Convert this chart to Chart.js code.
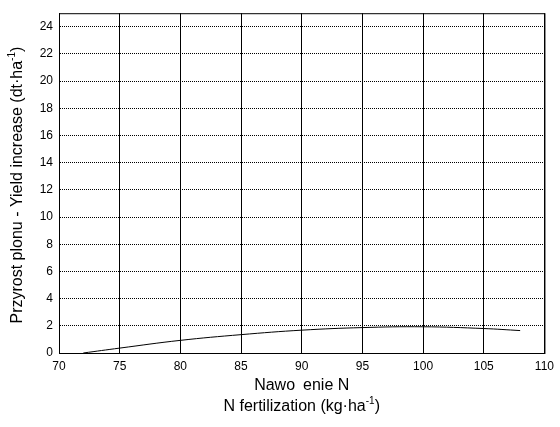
<!DOCTYPE html>
<html>
<head>
<meta charset="utf-8">
<script src="https://cdn.jsdelivr.net/npm/chart.js@4"></script>
<style>
  html, body { margin: 0; padding: 0; background: #fff; }
  #box { width: 560px; height: 427px; }
</style>
</head>
<body>
<div id="box"><canvas id="myChart"></canvas></div>
<script>
// values
const dawki = [72, 75, 80, 85, 90, 95, 100, 105, 108];
const przyrost = [0, 0.36, 0.93, 1.35, 1.68, 1.87, 1.93, 1.8, 1.65];
const xTicks = [70, 75, 80, 85, 90, 95, 100, 105, 110];
const yTicks = [0, 2, 4, 6, 8, 10, 12, 14, 16, 18, 20, 22, 24];

const FONT = 'Arial, "Liberation Sans", sans-serif';

// draws text with a superscript part, e.g. ['(dt·ha', '-1', ')']
function drawSup(ctx, parts, x, y, size) {
    const supSize = Math.round(size * 0.65);
    let total = 0;
    parts.forEach((p, i) => {
        ctx.font = (i % 2 ? supSize : size) + 'px ' + FONT;
        total += ctx.measureText(p).width;
    });
    let cx = x - total / 2;
    parts.forEach((p, i) => {
        const sup = i % 2 === 1;
        ctx.font = (sup ? supSize : size) + 'px ' + FONT;
        ctx.fillText(p, cx, sup ? y - size * 0.38 : y);
        cx += ctx.measureText(p).width;
    });
}

const ramka = {
    id: 'ramka',
    afterDraw(chart) {
        const { ctx, chartArea: a } = chart;
        ctx.save();
        ctx.strokeStyle = '#000';
        ctx.lineWidth = 1;
        ctx.strokeRect(a.left + 0.5, a.top + 0.5, a.right - a.left, a.bottom - a.top);
        ctx.fillStyle = '#000';
        ctx.textAlign = 'left';
        ctx.textBaseline = 'middle';
        const mid = (a.left + a.right) / 2;
        drawSup(ctx, ['Nawo\u2002enie N'], mid, 386, 16);
        drawSup(ctx, ['N fertilization (kg·ha', '-1', ')'], mid, 407, 16);
        ctx.translate(18, (a.top + a.bottom) / 2 + 2);
        ctx.rotate(-Math.PI / 2);
        drawSup(ctx, ['Przyrost plonu - Yield increase (dt·ha', '-1', ')'], 0, 0, 16);
        ctx.restore();
    }
};

const ctx = document.getElementById('myChart').getContext('2d');
const myChart = new Chart(ctx, {
    type: 'line',
    data: {
        datasets: [{
            data: dawki.map((d, i) => ({ x: d, y: przyrost[i] })),
            borderColor: '#000',
            borderWidth: 1,
            pointRadius: 0,
            tension: 0.4,
            fill: false
        }]
    },
    options: {
        responsive: true,
        maintainAspectRatio: false,
        animation: false,
        layout: { padding: { top: 8, right: 9, left: 0, bottom: 0 } },
        plugins: { legend: { display: false }, tooltip: { enabled: false } },
        scales: {
            x: {
                type: 'linear',
                min: 70,
                max: 110,
                afterFit: s => { s.height = 74; },
                afterBuildTicks: s => { s.ticks = xTicks.map(v => ({ value: v })); },
                grid: { color: '#000', lineWidth: 1, drawTicks: false },
                border: { color: '#000' },
                ticks: { color: '#000', padding: 6, font: { family: FONT, size: 12 } }
            },
            y: {
                min: 0,
                max: 25,
                afterFit: s => { s.width = 59; },
                afterBuildTicks: s => { s.ticks = yTicks.map(v => ({ value: v })); },
                grid: { color: '#000', lineWidth: 1, drawTicks: false },
                border: { color: '#000', dash: [1, 1] },
                ticks: { color: '#000', padding: 6, font: { family: FONT, size: 12 } }
            }
        }
    },
    plugins: [ramka]
});
</script>
</body>
</html>
